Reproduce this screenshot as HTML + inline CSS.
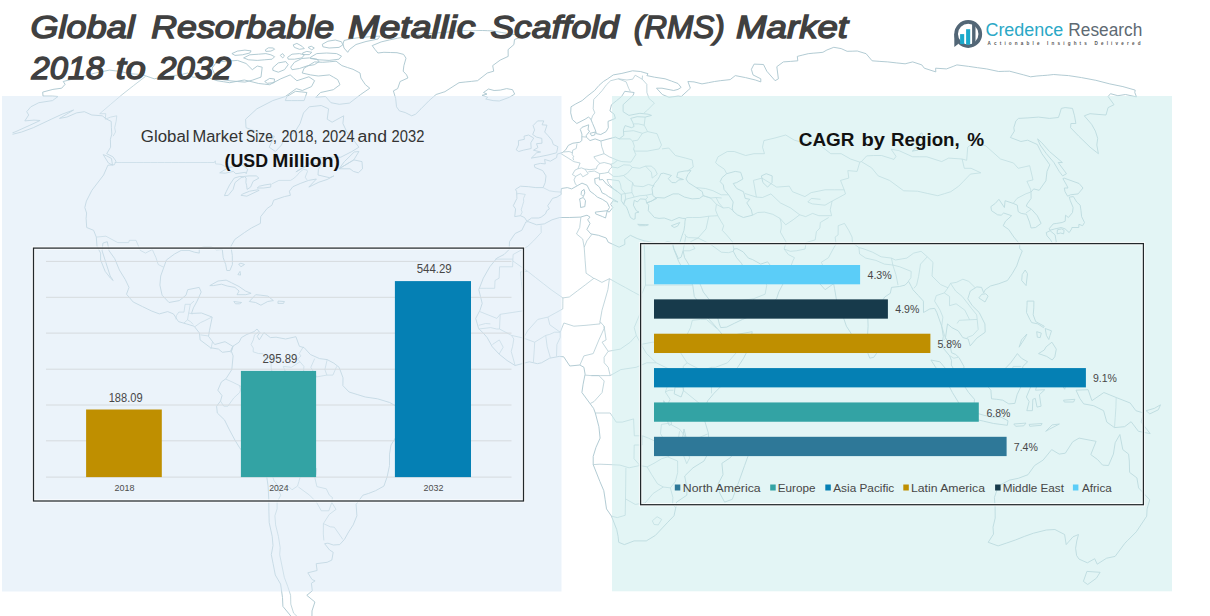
<!DOCTYPE html>
<html>
<head>
<meta charset="utf-8">
<title>Global Resorbable Metallic Scaffold (RMS) Market 2018 to 2032</title>
<style>
html,body{margin:0;padding:0;background:#fff;width:1210px;height:616px;overflow:hidden;}
svg{display:block;}
text{font-family:"Liberation Sans",Arial,sans-serif;}
</style>
</head>
<body>
<svg width="1210" height="616" viewBox="0 0 1210 616">
<defs><clipPath id="mapclip"><rect x="12.5" y="30" width="1162.5" height="586"/></clipPath></defs><g fill="none" stroke-linejoin="round" clip-path="url(#mapclip)">
<path d="M42.7 92.1L52.9 89.4L61.7 88.2L65.1 84.3L63.2 81.5L80.0 77.2L95.4 73.0L109.5 70.1L115.2 70.8L120.9 71.5L124.9 72.6L128.9 73.7L135.6 74.1L142.3 74.5L146.0 76.0L150.1 77.4L154.2 78.8L164.0 76.8L171.8 75.8L179.5 74.9L187.9 73.0L192.8 77.2L199.7 77.0L206.5 76.8L211.7 78.8L216.9 80.7L223.3 81.7L229.7 82.7L237.0 81.3L244.3 80.0L249.1 81.1L253.9 82.3L258.7 83.5L264.2 84.1L269.6 84.7L280.8 78.8L290.2 74.9L293.5 77.8L296.9 80.7L308.9 76.8L314.6 80.7L311.5 86.6L302.3 90.5L296.3 88.6L285.3 96.5L272.8 100.6L256.9 108.8L245.6 119.2L246.0 127.7L252.0 129.9L258.0 132.0L265.8 135.4L274.4 136.2L269.2 147.2L275.4 151.5L281.5 145.0L284.4 138.4L294.9 132.0L300.1 123.5L303.5 112.9L309.3 106.8L321.2 105.5L328.6 108.8L327.2 119.2L332.1 122.2L343.7 115.8L342.9 123.5L346.9 132.0L352.3 138.4L358.9 147.2L351.9 151.5L340.8 157.2L333.7 157.2L326.7 157.2L317.5 158.1L305.6 165.7L295.9 171.9L309.7 164.3L322.6 163.0L318.4 169.2L318.0 175.0L329.6 177.7L333.9 175.9L327.1 179.5L318.9 182.2L308.8 187.1L316.4 179.0L308.6 180.4L300.2 183.5L292.9 186.7L289.4 191.2L290.4 195.3L284.4 196.6L273.7 200.2L271.9 205.2L267.2 208.4L260.7 216.6L260.4 223.4L251.4 228.0L244.4 232.6L234.8 239.4L230.9 246.3L232.3 255.4L232.4 264.5L229.9 270.5L226.8 270.5L225.7 264.5L223.2 257.7L222.3 249.5L216.4 249.9L211.4 246.7L203.6 246.7L199.2 248.6L199.3 253.1L194.4 252.2L189.0 250.4L181.2 250.4L174.5 254.0L166.4 260.0L163.8 267.3L160.7 276.0L159.9 285.1L162.1 295.2L169.0 302.5L179.3 300.6L186.0 295.2L187.7 289.7L199.2 287.4L201.2 292.0L197.1 301.1L193.4 307.9L191.5 313.4L201.5 313.0L212.2 317.1L209.4 330.8L208.5 336.3L214.7 344.5L225.0 341.7L232.8 346.3L230.5 351.3L222.4 352.3L218.5 349.1L210.5 347.7L200.1 339.9L199.5 333.1L194.1 326.2L186.3 323.9L178.5 321.6L173.4 313.9L167.7 311.6L159.3 313.9L151.8 311.1L142.5 306.6L133.2 302.0L126.5 294.2L129.0 287.4L125.3 279.6L119.4 270.0L114.7 258.6L109.1 250.8L107.3 241.7L102.9 243.1L102.1 250.8L105.8 262.3L110.2 276.0L113.2 280.5L110.5 278.2L105.2 271.4L100.6 260.0L100.6 253.1L97.0 246.3L96.3 237.1L93.6 230.3L86.7 227.5L86.1 218.4L86.6 213.0L84.8 207.5L86.4 201.1L91.9 190.3L103.6 175.0L107.9 165.2L114.3 164.8L116.0 161.2L112.9 156.8L106.7 153.7L110.6 147.2L110.4 139.3L111.8 134.1L111.4 127.7L111.2 121.4L106.8 119.2L102.2 115.8L91.8 115.0L84.4 111.7L76.5 112.9L66.8 117.1L59.5 118.4L73.6 110.0L62.1 114.2L51.3 119.2L33.3 127.7L21.7 132.0L9.7 135.0L0.5 137.1L-7.5 138.9L1.4 136.2L14.9 132.0L29.1 125.6L40.1 120.5L34.0 120.1L24.8 120.9L28.7 115.0L26.7 111.7L30.8 106.8L38.8 102.7L52.5 100.6L58.0 96.5L52.3 96.1L43.0 96.1L42.7 92.1ZM232.8 346.3L239.1 342.2L241.4 337.6L246.9 334.4L254.0 331.7L257.0 329.0L259.9 332.6L257.2 336.3L259.3 339.9L263.9 332.6L270.4 337.6L276.1 337.2L285.6 339.0L295.9 336.7L299.4 346.3L304.2 347.7L310.4 354.5L319.5 358.6L327.2 359.6L333.9 363.2L339.1 367.3L343.0 377.8L342.9 385.6L349.1 392.0L357.2 394.5L365.3 397.0L377.5 398.8L389.7 402.5L399.9 408.4L404.2 417.6L405.1 422.1L402.4 429.0L396.7 435.8L391.0 445.0L389.5 454.1L389.5 465.5L387.1 477.0L383.9 486.1L375.6 490.7L368.7 493.4L362.9 495.2L356.1 504.4L356.9 515.8L353.2 524.9L348.7 531.8L344.4 539.5L339.7 544.6L333.3 545.0L327.9 543.2L324.6 543.7L329.6 550.0L333.2 552.3L331.8 560.1L327.1 562.3L316.2 563.7L317.1 570.5L307.8 572.8L312.0 579.5L315.1 580.9L311.4 583.2L312.3 590.8L306.8 595.3L314.9 602.0L312.0 610.9L311.9 619.7L315.8 624.0L312.8 628.4L308.7 630.6L295.7 621.9L282.9 606.4L282.5 597.5L280.6 584.1L275.3 575.0L273.1 563.7L271.3 554.6L273.0 545.5L272.2 536.3L269.2 522.6L268.9 511.2L268.8 499.8L268.1 486.1L265.7 469.7L260.3 464.6L245.3 455.5L239.3 447.3L235.1 440.4L229.0 429.0L224.5 419.9L217.3 413.0L216.6 406.2L220.5 401.1L222.0 395.6L217.8 390.2L221.4 381.9L226.0 378.7L231.8 369.6L233.1 355.9L231.4 351.3L232.8 346.3ZM526.9 221.2L524.5 217.5L520.4 215.7L514.7 216.6L515.6 208.9L513.3 205.7L516.9 198.4L516.7 191.7L515.5 189.4L520.5 186.2L528.5 186.7L535.8 187.6L543.1 187.6L545.2 182.6L546.0 175.9L542.7 170.6L534.8 167.4L534.3 164.8L540.4 163.4L545.3 163.9L544.6 159.4L550.4 161.2L556.6 157.6L557.2 154.1L562.8 152.4L565.7 149.8L568.3 145.4L572.9 143.2L579.7 142.3L581.8 140.6L581.9 134.1L580.3 129.4L582.0 127.3L588.7 124.8L588.0 129.9L589.7 131.1L586.3 135.4L586.3 137.1L590.0 140.6L595.1 138.9L600.9 141.0L607.0 139.3L615.4 137.1L619.2 138.9L623.8 135.4L623.4 129.9L625.1 125.6L631.5 127.7L634.1 126.5L632.7 122.2L630.7 118.4L637.1 116.7L645.2 117.1L651.5 115.4L648.1 114.2L639.9 113.3L628.9 115.4L623.1 111.7L623.1 104.7L633.2 95.3L634.1 92.5L624.8 91.3L621.6 96.5L616.6 100.6L611.5 104.7L609.9 110.9L614.2 114.2L615.4 118.4L608.0 121.4L608.3 127.7L606.1 131.6L600.8 134.5L596.4 133.7L595.3 129.9L592.6 123.5L590.7 118.8L588.4 117.1L585.1 119.2L576.8 123.5L572.4 119.6L570.7 112.9L571.0 106.8L575.8 103.9L582.2 100.6L586.9 96.5L594.6 90.5L599.0 85.4L603.4 81.5L607.7 78.8L613.3 74.9L621.9 73.4L632.5 70.8L640.4 71.5L648.0 73.7L646.9 75.6L654.5 77.2L665.1 78.8L671.5 81.1L678.0 83.5L681.1 87.4L678.0 89.4L673.7 90.5L662.0 88.2L656.5 88.2L662.3 94.5L669.0 97.3L678.1 96.1L681.3 96.5L688.7 89.7L690.4 88.2L687.9 81.5L694.0 81.9L702.0 83.9L708.4 82.7L714.6 81.5L720.3 80.7L730.2 79.6L735.3 75.6L745.5 77.6L755.4 80.0L760.8 81.9L760.8 78.8L753.0 74.9L751.4 69.3L754.1 64.1L763.5 64.5L766.8 71.2L775.1 80.7L778.4 78.8L776.8 66.7L783.4 61.9L790.6 61.4L797.8 60.8L797.3 56.4L802.8 55.0L808.2 53.7L813.1 53.2L818.0 52.8L822.9 52.3L826.9 50.0L833.8 47.3L841.2 48.6L847.1 51.3L852.2 51.2L857.3 51.0L866.1 53.7L872.1 60.8L879.9 61.4L887.7 61.9L896.4 62.9L905.1 63.8L912.7 61.9L921.8 64.9L924.3 68.2L935.8 71.9L935.6 68.2L946.5 68.9L953.2 66.4L956.9 64.9L968.7 66.4L977.6 67.7L986.5 68.9L998.7 71.5L1004.2 71.3L1009.6 71.2L1023.7 74.9L1030.6 76.8L1036.9 76.0L1042.2 75.6L1047.6 75.2L1053.7 74.5L1061.1 75.1L1068.5 75.6L1081.5 77.6L1095.8 80.3L1109.8 83.9L1122.9 86.6L1135.2 90.1L1134.8 92.5L1136.5 96.9L1125.5 94.5L1117.9 95.7L1110.5 93.7L1108.1 96.5L1114.0 104.7L1108.1 107.6L1106.0 115.0L1098.0 114.4L1090.0 113.7L1084.3 115.8L1091.6 124.3L1095.4 131.1L1097.7 138.4L1096.8 145.0L1098.4 153.7L1090.1 147.2L1078.8 136.2L1070.6 127.7L1070.9 123.5L1075.9 123.5L1074.5 115.8L1072.5 108.4L1065.2 107.6L1061.3 108.4L1060.0 112.9L1058.4 117.5L1049.5 118.4L1038.5 117.1L1027.9 117.9L1018.5 118.4L1015.9 120.9L1013.8 127.7L1014.4 131.1L1010.4 137.5L1020.9 141.5L1027.7 140.2L1037.3 144.5L1041.9 153.7L1049.8 164.8L1047.0 171.4L1045.9 180.8L1039.2 190.3L1033.7 188.9L1031.0 192.1L1031.1 198.4L1027.2 203.9L1026.3 206.1L1031.5 209.3L1037.3 215.7L1041.1 223.4L1035.6 227.5L1031.1 228.0L1029.5 222.1L1026.5 214.3L1021.2 213.4L1018.2 211.6L1017.3 205.2L1013.2 203.4L1005.1 200.7L1004.4 207.5L998.9 199.3L995.3 203.4L990.9 206.6L991.5 210.7L997.6 214.8L1001.2 215.2L1003.7 213.0L1011.6 215.7L1005.5 221.2L1003.2 225.7L1008.6 229.4L1013.9 237.1L1019.7 244.0L1019.7 248.6L1022.3 250.8L1019.4 258.1L1016.7 265.9L1012.2 273.7L1007.4 280.5L998.9 283.7L990.5 286.0L985.2 289.7L983.7 292.9L981.6 287.4L976.8 286.9L970.3 291.0L967.8 298.8L972.3 305.7L979.2 312.5L984.9 323.9L985.2 332.2L976.9 338.1L970.2 345.9L968.2 339.0L962.8 337.6L958.2 330.8L951.8 327.6L947.5 323.9L945.5 337.6L950.4 346.8L951.5 352.7L955.7 354.5L959.1 357.7L963.9 366.4L964.0 373.7L967.4 379.2L964.6 379.7L958.4 375.1L955.5 372.4L951.3 365.0L951.5 360.5L949.7 355.9L943.2 348.1L942.2 343.6L943.3 336.3L941.7 326.2L936.8 312.5L934.7 308.4L929.9 308.9L923.5 312.5L923.4 301.1L918.4 295.6L912.9 289.7L911.3 286.5L908.6 281.4L905.1 285.1L899.4 286.5L891.5 287.4L890.3 293.3L884.7 297.0L881.3 302.5L875.2 309.8L867.7 314.8L868.1 326.2L867.3 338.5L865.1 343.1L861.2 344.9L858.5 348.6L853.4 342.2L850.9 333.1L846.4 326.2L842.5 314.8L838.5 305.7L836.3 298.8L834.5 288.3L833.6 283.7L825.1 289.7L819.8 283.7L823.5 281.0L817.2 277.8L813.1 276.0L810.8 272.3L808.5 269.6L800.8 270.5L789.3 270.5L781.0 269.6L772.1 267.7L767.6 261.8L760.7 264.1L752.4 259.5L748.4 258.1L743.1 251.8L737.0 248.6L733.9 249.0L733.3 251.3L736.6 257.7L741.4 263.2L744.3 268.7L746.9 272.3L750.2 274.6L753.8 275.1L761.7 275.1L765.3 270.0L768.0 265.9L769.0 271.9L773.7 277.3L778.9 278.2L783.3 283.3L778.8 292.0L776.5 298.8L771.6 303.4L765.9 307.9L755.1 314.3L742.5 319.4L734.6 323.2L726.7 327.1L720.7 327.6L719.3 323.9L717.0 314.8L716.0 310.2L710.4 301.1L703.3 292.0L701.5 287.4L696.6 276.0L690.2 266.8L684.6 257.7L683.1 250.8L681.1 257.2L678.4 258.6L674.0 249.0L672.5 243.1L679.8 242.6L682.0 235.8L683.9 230.7L684.7 225.7L685.0 221.2L685.5 218.4L682.9 218.4L679.0 217.5L671.7 220.7L664.3 218.0L659.0 218.4L654.4 217.5L651.6 214.3L648.3 210.7L648.7 205.2L646.7 202.9L651.5 201.1L656.8 198.4L652.9 195.7L652.0 188.5L654.5 183.5L657.8 179.5L659.4 176.8L660.8 173.7L663.7 173.2L671.5 175.5L668.2 178.6L671.9 182.6L675.6 182.6L678.9 179.9L683.5 179.5L676.7 177.2L677.9 172.3L684.9 171.0L691.0 170.6L687.9 174.6L686.0 179.0L688.3 182.6L696.2 187.6L702.3 191.7L703.2 195.7L699.5 198.4L692.2 198.9L684.5 197.1L678.6 193.9L673.1 193.9L664.2 198.0L656.8 197.5L651.5 201.1L646.7 202.9L645.8 199.3L640.2 198.9L637.4 202.0L634.3 200.2L633.4 205.2L636.3 210.7L639.0 212.1L635.3 213.0L635.1 218.9L633.3 219.3L630.5 217.5L628.9 213.4L628.0 210.7L626.3 206.6L623.6 204.3L621.3 200.7L621.4 194.8L617.6 191.7L612.0 188.0L606.4 184.0L602.7 179.5L599.4 179.9L599.4 177.7L594.7 178.6L595.1 183.5L599.5 187.1L602.2 193.0L605.5 194.4L608.5 196.6L618.0 202.0L613.1 200.7L610.6 204.3L612.9 207.5L609.2 212.1L607.3 211.1L609.5 207.5L607.2 202.5L602.3 199.3L597.4 197.1L594.4 194.4L590.0 191.2L587.1 185.3L582.0 183.1L577.2 185.8L571.7 188.9L567.3 187.6L561.4 188.5L560.9 192.1L561.2 194.4L557.0 197.1L552.5 198.4L549.7 202.9L547.7 205.7L549.4 208.9L546.7 210.7L545.5 213.9L541.2 217.1L538.8 218.0L531.6 218.0L527.7 220.7L526.9 221.2ZM673.6 248.6L678.6 261.3L681.6 266.8L687.2 276.4L692.7 285.1L694.3 296.5L700.2 304.3L705.0 314.8L712.5 323.0L720.0 331.7L725.0 338.1L737.0 334.4L752.2 331.7L751.2 338.1L750.6 344.5L743.6 358.2L737.7 367.3L728.9 376.5L721.7 385.6L713.9 393.4L707.8 400.7L704.5 408.0L702.8 415.3L705.1 422.1L708.5 433.6L708.6 442.7L708.8 451.8L704.0 461.0L693.0 467.8L684.7 476.0L687.0 488.4L686.8 495.2L676.6 502.1L676.0 506.7L674.0 515.8L667.8 522.2L655.4 535.4L646.3 540.9L634.1 540.9L624.4 544.6L618.7 542.3L618.1 536.3L616.7 529.5L611.5 516.2L606.5 508.9L605.2 499.8L603.8 490.7L599.9 481.5L593.2 464.6L593.2 456.4L596.0 447.3L600.1 438.1L598.9 426.7L595.3 413.0L593.6 408.4L581.9 392.5L583.1 384.2L585.1 374.2L583.9 367.3L579.9 365.0L569.8 366.0L563.7 356.8L559.3 356.4L549.6 358.2L541.5 362.8L537.4 363.7L529.3 361.8L515.1 365.5L507.1 360.5L499.1 354.1L492.3 346.8L487.2 337.6L483.3 333.1L478.6 328.5L475.7 318.4L480.0 310.2L482.2 303.4L480.5 296.5L478.8 289.7L483.3 278.2L489.8 266.8L496.9 258.1L504.1 254.5L509.1 249.5L509.5 241.7L515.1 233.5L521.8 230.3L525.2 223.4L525.7 222.1L528.0 221.6L536.6 224.8L544.3 223.9L552.0 219.8L559.7 217.5L569.2 217.5L580.5 217.1L587.0 215.2L590.0 217.1L587.7 219.8L590.0 223.4L586.9 229.4L590.8 233.9L598.5 235.3L606.2 238.0L608.2 242.2L619.1 247.2L624.9 244.4L624.7 239.4L630.4 235.3L637.1 238.5L644.1 240.8L651.9 242.2L663.2 243.1L667.4 241.7L672.4 242.6L673.6 248.6ZM726.7 173.7L735.2 171.4L740.7 172.3L742.9 179.0L736.7 182.6L733.2 183.5L736.7 188.5L743.5 191.7L745.2 198.4L749.8 199.3L746.8 202.9L751.3 209.8L752.5 215.2L743.4 217.5L737.3 214.8L733.0 211.1L732.2 208.0L733.2 202.0L728.6 194.8L724.0 189.4L723.3 184.9L720.2 181.7L722.0 177.7L726.7 173.7ZM761.4 175.9L766.2 173.7L772.2 175.9L772.0 182.6L767.6 187.1L762.9 182.6L761.4 175.9ZM912.3 151.1L917.7 150.2L923.3 145.0L923.2 136.2L921.9 132.8L920.0 134.1L918.6 142.8L914.0 149.8L912.3 151.1ZM369.8 88.2L360.7 94.5L349.5 103.1L339.3 104.3L330.9 102.7L325.5 96.5L315.7 97.3L320.6 92.5L333.3 89.7L340.0 84.7L337.7 79.6L333.5 77.2L329.5 74.9L318.3 76.0L310.5 74.9L302.2 73.0L304.1 68.2L314.6 61.9L322.5 62.3L329.3 61.8L336.1 61.2L341.9 65.6L347.4 67.5L353.0 69.3L360.0 73.0L360.9 78.0L365.4 84.7L369.8 88.2ZM304.1 100.6L297.8 100.6L291.6 100.6L285.3 100.6L286.9 96.5L295.6 91.3L301.2 91.9L306.9 92.5L304.1 100.6ZM339.0 168.8L353.8 159.9L358.9 151.5L354.2 152.0L344.4 161.6L339.0 168.8ZM353.8 159.9L362.0 161.6L362.5 168.8L358.3 172.8L353.4 171.4L350.0 168.8L339.0 168.8ZM112.5 165.2L108.4 163.0L103.2 154.6L106.7 155.9L111.5 158.5L112.5 165.2ZM209.8 285.6L218.0 281.0L226.1 280.1L231.6 282.8L239.0 286.5L245.5 291.0L251.1 293.3L245.8 294.7L237.0 294.7L239.1 291.0L234.9 287.4L227.2 286.0L221.5 284.2L213.4 285.6L209.8 285.6ZM249.3 301.5L255.7 294.7L260.8 295.2L267.9 296.1L273.4 300.6L267.7 301.5L260.9 305.2L255.6 302.5L249.3 301.5ZM233.8 301.5L241.6 302.5L239.5 303.8L235.5 303.8L233.8 301.5ZM278.1 301.1L284.4 301.5L283.5 303.4L277.9 303.4L278.1 301.1ZM240.9 263.2L244.5 264.5L240.9 266.8L238.7 264.1L240.9 263.2ZM240.0 271.4L240.6 275.1L237.9 274.6L240.0 271.4ZM372.2 45.6L374.9 49.3L377.9 53.0L383.9 52.3L390.4 52.5L397.0 52.7L403.6 54.4L406.0 58.2L403.9 65.6L403.2 71.2L406.6 74.9L407.9 78.0L400.1 81.5L397.7 88.6L393.4 90.9L395.7 98.6L396.5 106.8L399.4 110.9L405.1 112.5L411.7 115.8L415.6 114.2L421.0 108.8L429.1 100.6L436.1 94.5L444.9 91.7L459.0 82.7L465.2 82.0L471.3 81.4L477.5 80.7L487.3 73.0L493.7 71.2L492.7 65.6L500.2 60.1L508.2 56.4L508.1 49.6L513.9 44.6L514.5 39.5L523.3 36.3L517.6 35.2L512.0 34.1L506.9 33.3L501.9 32.5L496.9 31.7L492.0 30.9L487.4 30.7L482.7 30.5L478.0 30.4L473.4 30.2L468.7 30.1L463.6 30.5L458.4 31.0L453.2 31.5L448.0 32.0L442.8 32.5L437.6 32.9L432.3 33.3L427.1 33.7L421.8 34.1L415.8 35.2L409.8 36.3L403.8 37.2L397.7 38.2L389.6 39.9L381.2 41.9L372.2 45.6ZM485.7 99.0L493.1 100.6L499.3 101.0L509.4 97.3L514.7 94.1L512.5 89.7L506.7 88.6L500.3 90.1L494.1 90.5L488.5 89.0L483.5 92.5L487.0 94.1L482.1 95.3L487.7 97.3L485.7 99.0ZM219.7 172.8L225.2 173.2L233.3 171.4L235.8 173.7L245.4 172.3L246.2 173.7L247.7 169.2L245.2 167.0L239.2 163.4L232.8 167.0L228.0 167.9L219.7 172.8ZM224.4 195.7L228.3 195.3L233.1 189.4L235.0 182.6L241.0 177.7L244.0 176.8L239.8 176.4L234.2 178.1L229.6 184.9L226.2 191.7L224.4 195.7ZM244.2 176.4L249.1 175.9L256.3 175.9L258.9 178.1L253.1 181.3L250.6 187.1L247.1 189.4L246.6 185.3L245.9 182.6L246.2 178.1L244.2 176.4ZM240.9 195.3L246.8 196.2L259.2 190.3L257.5 189.8L249.6 191.2L242.9 193.9L240.9 195.3ZM257.2 188.0L263.8 188.0L270.7 187.1L270.9 184.0L265.1 184.9L259.4 186.2L257.2 188.0ZM531.3 158.1L539.1 156.8L548.0 155.0L556.6 152.8L557.9 146.7L553.3 144.5L551.8 140.2L547.8 135.4L544.7 132.0L547.0 125.2L542.1 124.8L543.8 120.9L537.6 120.9L533.1 125.6L534.6 129.9L532.7 134.5L536.5 137.1L541.8 138.4L542.0 143.2L536.5 143.7L537.9 147.6L533.5 150.2L540.6 152.0L536.7 152.8L531.3 158.1ZM531.2 148.5L530.8 142.8L533.7 138.0L528.6 135.0L524.0 136.2L524.4 139.3L518.4 140.6L518.5 145.0L516.2 149.8L518.7 151.5L523.4 150.2L531.2 148.5ZM584.1 189.4L584.8 193.0L583.3 196.6L581.1 194.4L581.5 191.2L584.1 189.4ZM583.3 197.5L585.5 200.7L584.8 206.6L580.6 207.5L580.3 202.9L579.6 198.9L583.3 197.5ZM595.3 212.1L607.3 210.7L605.5 218.0L602.5 216.6L595.7 213.9L595.3 212.1ZM637.7 224.3L648.4 224.8L645.4 225.7L639.6 225.7L637.7 224.3ZM671.3 225.7L679.8 222.5L677.5 226.2L674.1 227.5L671.3 225.7ZM590.0 133.3L595.4 132.0L594.7 135.0L591.7 135.8L590.0 133.3ZM1062.6 175.9L1066.5 173.7L1058.2 162.5L1062.4 162.5L1049.5 151.5L1041.8 142.8L1037.6 138.9L1040.1 145.0L1046.4 153.7L1053.9 162.5L1059.2 171.4L1062.6 175.9ZM1049.3 228.5L1053.2 223.9L1056.8 223.4L1062.1 222.5L1065.2 221.2L1065.5 215.2L1068.4 217.5L1072.5 212.5L1073.1 207.5L1070.3 200.7L1069.3 197.1L1073.4 196.6L1076.7 202.0L1080.2 205.2L1081.0 210.7L1081.6 216.6L1084.5 222.5L1082.6 225.7L1078.9 224.3L1078.8 227.5L1071.9 227.5L1071.6 228.9L1069.2 232.6L1065.1 228.9L1061.2 227.5L1056.9 228.5L1054.8 228.9L1049.9 230.3L1049.3 228.5ZM1067.6 196.2L1070.5 194.8L1078.1 193.9L1083.0 188.0L1079.1 183.5L1064.1 178.1L1062.9 178.6L1066.5 184.9L1068.0 188.0L1064.3 188.0L1065.0 191.7L1067.6 196.2ZM1046.2 232.6L1050.1 230.7L1055.1 234.9L1056.3 242.2L1053.1 244.0L1050.2 239.4L1047.0 235.8L1046.2 232.6ZM1057.1 233.9L1060.6 233.0L1063.6 233.9L1064.1 230.3L1061.7 228.9L1057.4 229.8L1057.1 233.9ZM1021.7 280.5L1026.1 285.6L1027.5 273.7L1025.2 270.0L1022.2 274.6L1021.7 280.5ZM978.8 297.9L985.0 302.0L988.1 296.1L985.8 293.8L981.9 294.2L978.8 297.9ZM1027.1 301.1L1033.9 301.1L1033.8 307.9L1033.2 314.8L1035.7 321.6L1044.2 326.2L1043.5 327.6L1037.9 323.9L1031.7 322.6L1029.8 319.4L1026.5 312.5L1027.0 305.7L1027.1 301.1ZM1038.5 353.6L1044.3 350.0L1046.1 346.8L1051.9 342.2L1056.3 349.1L1054.8 356.8L1052.2 360.0L1046.7 356.4L1038.5 353.6ZM1045.2 328.5L1051.5 330.8L1050.0 335.4L1048.8 339.5L1046.4 335.4L1045.2 328.5ZM1036.7 331.7L1041.3 333.1L1040.2 337.6L1037.3 337.2L1036.7 331.7ZM1021.5 339.9L1026.9 334.0L1025.3 337.6L1019.1 347.2L1021.5 339.9ZM986.8 378.7L989.6 376.5L994.9 378.3L1002.8 371.0L1010.7 362.8L1017.4 353.6L1021.4 358.2L1027.6 361.8L1022.9 366.4L1021.9 372.8L1027.4 381.0L1021.4 385.6L1017.1 394.7L1014.9 403.4L1008.8 403.9L1002.8 400.2L996.8 399.3L991.5 398.8L990.9 390.2L987.0 385.6L986.8 378.7ZM930.9 360.0L939.9 361.8L950.3 374.2L962.6 383.3L968.6 392.5L974.5 399.3L973.3 412.1L968.0 412.6L959.4 403.9L952.4 392.5L946.4 381.0L940.2 374.2L930.9 360.0ZM970.6 416.7L976.1 413.0L984.0 415.3L992.0 417.1L1000.9 417.1L1008.0 420.8L1007.3 425.3L993.7 423.5L983.7 421.2L975.7 419.4L970.6 416.7ZM1026.8 410.7L1029.1 401.6L1026.4 397.0L1031.2 385.6L1033.5 381.9L1043.6 381.5L1052.4 378.7L1049.7 383.8L1037.6 383.3L1035.5 390.2L1044.8 389.7L1039.4 394.7L1041.1 406.2L1037.0 407.1L1035.3 398.4L1032.8 399.3L1032.4 410.7L1026.8 410.7ZM1061.7 377.4L1063.9 383.3L1067.0 380.1L1064.7 389.3L1062.3 385.6L1061.7 377.4ZM1063.5 400.2L1074.9 399.3L1073.6 402.0L1064.3 402.0L1063.5 400.2ZM1076.0 390.2L1088.1 389.7L1091.9 400.7L1103.9 392.5L1116.2 397.5L1130.2 403.0L1135.9 410.7L1143.5 413.0L1141.1 422.1L1150.2 433.6L1138.4 431.3L1131.1 421.7L1124.6 426.7L1114.5 427.6L1106.8 422.1L1103.6 410.7L1093.7 405.7L1083.7 403.9L1079.8 398.4L1076.0 390.2ZM1146.1 410.7L1154.3 408.4L1160.5 404.8L1158.3 409.8L1149.8 413.9L1146.1 410.7ZM1045.7 431.3L1052.1 424.9L1059.4 424.0L1049.8 429.0L1045.7 431.3ZM1029.1 424.4L1042.1 423.5L1041.2 425.3L1029.8 426.3L1029.1 424.4ZM1013.8 424.0L1026.0 423.1L1023.8 425.8L1015.7 426.3L1013.8 424.0ZM868.0 353.6L869.1 340.8L873.7 346.8L876.4 353.6L873.8 357.3L869.8 358.2L868.0 353.6ZM744.1 440.4L747.9 456.4L744.6 465.5L738.9 481.5L732.3 499.3L724.6 502.1L719.7 493.0L718.2 483.8L723.0 474.7L721.9 463.3L730.2 457.8L738.6 447.3L744.1 440.4ZM998.3 486.1L994.4 497.5L995.1 506.7L995.2 518.1L993.0 527.2L993.5 534.1L988.2 542.3L998.1 545.9L1006.7 543.0L1015.4 540.0L1024.7 536.3L1033.5 533.2L1046.3 530.0L1054.9 529.5L1064.6 534.5L1066.2 544.6L1073.0 536.8L1078.5 534.5L1076.8 540.9L1075.6 548.2L1076.6 555.5L1079.0 559.1L1087.4 562.8L1094.7 558.7L1097.2 564.2L1106.6 558.2L1115.1 556.4L1124.9 543.2L1127.6 540.5L1136.3 531.8L1146.7 516.2L1147.1 508.9L1149.7 499.8L1143.4 493.0L1138.6 487.9L1136.9 477.9L1129.6 472.4L1129.3 461.0L1128.6 454.1L1122.8 449.6L1119.9 434.5L1115.2 442.7L1113.4 454.1L1108.5 465.5L1102.6 465.1L1097.6 459.6L1090.8 454.6L1096.1 441.3L1090.9 440.4L1079.1 438.1L1072.7 441.8L1065.3 453.2L1059.2 454.1L1051.7 449.6L1043.1 460.1L1034.6 465.5L1028.0 474.7L1018.3 478.3L1009.2 480.2L998.3 486.1ZM1086.9 571.4L1100.1 572.3L1096.4 578.2L1087.7 584.5L1083.4 581.4L1086.9 571.4ZM338.3 618.8L344.6 618.8L351.0 620.1L349.7 622.7L342.6 622.3L338.3 618.8ZM675.1 387.0L682.8 387.0L683.6 390.2L681.1 397.0L674.2 393.8L675.1 387.0ZM663.7 400.7L666.9 406.2L670.0 415.3L671.5 424.4L669.1 425.3L665.2 415.3L663.7 400.7ZM684.0 429.0L686.2 438.1L687.5 450.9L684.7 450.5L682.6 438.1L684.0 429.0ZM231.9 53.6L237.4 51.1L244.9 50.1L251.1 50.9L249.8 53.0L242.4 54.8L235.0 55.4L231.9 53.6ZM243.6 57.9L249.8 54.8L258.5 54.2L265.9 53.6L270.9 54.8L274.6 56.7L272.1 59.2L264.7 59.8L257.3 60.4L248.6 59.8L243.6 57.9ZM265.3 49.9L268.4 47.8L273.4 48.0L274.6 49.3L270.9 51.1L265.9 51.4L265.3 49.9ZM222.0 61.5L230.0 61.0L237.4 60.4L246.1 63.5L252.3 69.7L257.3 66.0L262.2 67.2L261.0 77.1L252.3 80.2L244.9 82.1L237.4 81.5L230.0 80.8L222.0 79.5L215.0 75.0L212.0 68.0L216.0 63.0L222.0 61.5ZM264.7 81.5L269.7 78.4L274.6 79.0L274.0 82.7L267.2 83.3L264.7 81.5ZM272.8 67.8L278.3 62.9L285.8 61.6L288.2 64.7L284.5 69.7L278.3 72.2L272.8 70.3L272.8 67.8ZM280.2 55.4L282.7 53.6L284.5 56.1L282.7 57.9L280.2 55.4ZM287.6 57.3L292.0 54.2L299.4 53.6L304.3 54.8L301.9 57.9L294.4 59.2L288.2 59.2L287.6 57.3ZM293.2 44.9L296.9 43.4L301.9 46.2L304.3 48.6L299.4 49.3L294.4 47.4L293.2 44.9ZM308.1 47.4L311.2 46.2L314.3 48.0L311.8 49.9L308.1 47.4ZM302.5 53.0L306.8 51.4L311.8 52.3L309.3 54.6L303.1 54.6L302.5 53.0ZM290.7 67.2L294.4 62.3L301.9 58.5L309.3 57.9L316.7 59.2L319.2 61.6L314.3 64.7L306.8 66.0L299.4 68.5L292.0 69.7L290.7 67.2ZM310.5 57.3L316.7 53.6L326.7 53.0L336.6 53.6L341.5 56.1L339.0 59.2L329.1 60.4L319.2 59.8L310.5 58.5L310.5 57.3ZM322.3 44.3L327.9 41.2L335.3 40.0L341.5 41.8L342.8 44.9L339.0 47.4L329.1 48.0L322.9 46.8L322.3 44.3ZM344.0 40.5L351.4 38.7L360.1 37.5L372.0 36.5L380.0 36.2L378.0 39.0L366.0 41.5L356.0 44.5L349.5 49.5L347.7 52.3L344.0 48.0L343.0 44.0L344.0 40.5Z" stroke="#A9C5CE" stroke-width="0.9"/>
<path d="M114.7 162.5L121.9 162.5L129.0 162.5L136.1 162.5L143.2 162.5L150.3 162.5L157.4 162.5L164.5 162.5L171.7 162.5L178.8 162.5L185.9 162.5L193.0 162.5L200.1 162.5L207.2 162.5L214.4 162.5L215.3 160.8L215.6 163.9L221.0 164.3L225.2 166.5L231.7 167.0M271.6 184.0L278.9 180.4L290.5 180.4L292.9 179.0L296.7 175.9L299.1 172.8L303.3 169.4L306.7 169.9L307.5 171.4L305.2 177.2L307.0 179.9M145.5 76.4L133.7 85.5L122.0 94.7L110.8 104.2L99.7 113.7L105.8 113.7L105.2 119.2L110.6 117.1L116.8 115.8L116.1 121.4L114.7 127.7L115.5 132.0L113.1 136.2M96.3 237.1L105.9 236.2L117.8 242.6L128.6 242.6L129.4 240.3L136.0 240.3L140.3 250.4L145.5 253.1L152.3 249.5L156.0 257.7L158.2 264.5L163.8 267.3M175.9 319.4L176.3 315.7L178.8 312.1L184.0 312.1L185.1 304.3L190.3 304.3L194.0 301.1M190.3 304.3L188.7 313.0L192.6 313.9M184.0 323.0L187.5 319.8L190.5 321.6L193.1 324.4M188.7 313.0L187.5 319.8M194.9 326.7L200.5 322.6L204.7 320.7L211.8 317.1M200.5 334.9L207.3 335.8L208.5 335.8M210.9 349.1L212.5 341.7M233.2 345.9L230.9 352.7M258.8 331.7L254.5 334.9L253.3 339.9L251.1 344.5L253.3 348.1L253.1 351.8L258.7 353.6L262.7 353.6L265.0 357.7L272.7 357.3L271.2 362.8L271.1 367.3L273.0 376.5L274.5 380.1M303.4 346.8L299.1 353.6L301.0 355.9L297.7 359.1L300.0 361.8M314.7 358.6L310.8 367.3L316.7 376.9M327.2 359.6L324.9 369.6L326.9 375.1M336.7 366.4L332.9 375.1L326.9 375.1L316.7 376.9L307.3 380.1L303.4 375.1L303.9 366.4L300.0 361.8L291.4 367.3L283.3 366.4L286.4 374.2L280.2 381.9L274.5 380.1L264.0 381.0L264.4 391.1L262.7 404.8L258.2 406.2L250.7 409.8L247.1 419.9L250.3 428.5L255.3 431.3L261.3 429.0L261.3 435.8L267.8 435.8L271.7 434.5L279.5 430.4L282.6 435.4L288.4 442.7L297.6 447.3L302.9 448.6L305.4 460.1L313.0 460.1L312.7 464.6L316.7 468.7L316.0 474.7L314.7 477.0L316.9 486.6L326.3 488.8L329.4 495.2L332.4 497.5L331.8 502.5L336.0 509.4L329.3 514.4L323.4 523.6L330.3 526.8L334.3 527.2L342.9 539.5M226.0 379.2L232.0 381.9L239.6 385.6L247.8 391.1L254.0 396.6L262.1 397.9L262.7 404.8M220.5 401.1L223.8 406.2L227.9 406.2L233.8 397.9L239.7 392.5L240.5 389.7L239.6 385.6M267.8 435.8L269.2 443.6L268.0 454.1L269.7 458.7L268.4 465.5L265.7 469.7M268.4 465.5L271.2 472.4L274.2 481.1L276.6 483.8L278.1 489.8M278.1 489.8L282.8 486.1L288.8 486.6L292.0 489.8L297.5 486.1L298.9 481.5L300.6 475.1L311.2 473.8L314.7 477.0M298.4 487.0L309.6 495.2L316.4 502.1L321.3 510.8L328.8 510.8L331.8 502.5M278.1 489.8L280.8 495.2L277.1 502.1L277.1 508.9L274.9 515.8L275.6 524.9L278.4 536.3L280.2 547.8L279.7 554.6L282.0 566.0L284.3 577.3L287.7 586.3L290.6 595.3L290.8 604.2L293.6 613.1L300.5 619.7L309.5 621.9M323.9 540.5L323.3 534.1L323.4 523.6M543.1 187.6L549.5 190.8L555.0 191.7L561.3 192.1M516.5 193.9L519.1 193.5L525.3 194.4L523.5 198.4L523.7 201.6L522.6 205.2L521.2 209.8L522.2 212.1L520.4 215.7M560.4 153.3L566.1 156.8L568.2 158.1L571.7 160.3L573.7 161.6L580.1 163.0L577.9 168.8L575.0 170.1L572.4 174.6L575.6 176.4L574.0 179.9L575.4 184.0L577.2 185.8M563.6 152.0L569.1 151.5L572.6 152.8M577.0 143.7L576.2 148.5L572.7 150.2L572.2 154.6L573.9 156.8L572.8 157.6L573.8 160.3M575.6 176.4L580.7 173.7L582.8 176.8L588.2 173.7L585.0 169.2L581.4 167.9L577.9 168.8M581.9 136.7L586.3 137.1M600.9 141.0L601.7 146.7L602.8 149.8L604.0 153.7M593.9 156.8L599.8 155.0L604.0 153.7M593.9 156.8L595.3 159.0L599.9 163.4M599.9 163.4L597.1 166.1L596.4 168.8L590.0 169.7L586.4 169.2L585.0 169.2M588.2 171.9L594.3 171.0L599.7 173.7L599.4 177.7M599.9 163.4L604.2 162.5L610.9 164.3L612.1 167.0L609.7 169.2L608.3 172.3L604.4 173.2L599.7 173.7M604.0 153.7L609.3 156.8L617.5 160.3L621.8 161.6L631.0 162.1M610.9 164.3L614.1 163.0L617.5 160.3M612.1 167.0L617.8 167.9L623.7 164.8L629.8 165.2M619.2 138.9L630.1 138.9L632.6 141.0L634.4 146.3L633.6 149.3L635.8 154.6L631.0 162.1M623.5 131.6L633.5 130.7L642.4 133.3M633.9 123.9L638.5 123.9L644.2 125.2M632.6 141.0L637.7 140.2L642.4 133.3L647.6 131.6L657.0 133.7L661.5 145.0L659.2 148.9L647.3 151.1L635.5 151.1L633.6 149.3M645.2 117.1L644.2 125.2L647.6 131.6M644.1 112.9L647.6 110.0L654.4 103.1L649.1 98.6L646.9 92.5L646.8 84.3L642.2 79.2L642.5 75.6M618.3 78.8L626.9 80.0L632.7 79.2L635.2 75.2L642.2 79.2M618.3 78.8L626.2 81.9L628.8 88.6L630.3 91.3M618.3 78.8L610.7 80.7L606.5 84.7L602.2 90.5L598.6 94.5L593.7 99.4L593.2 108.8L594.8 112.9L592.6 115.8L591.3 119.6M662.0 148.9L668.8 148.0L675.4 155.5L685.6 158.1L692.2 159.9L693.3 167.0L687.4 171.0M629.8 165.2L632.4 167.4L639.6 168.3L645.5 166.1L651.2 166.1L655.0 169.2L657.3 174.1L652.2 178.1M645.5 166.1L651.4 172.3L652.2 178.1M632.4 167.4L627.4 173.2L623.5 175.5M623.5 175.5L628.1 179.5L632.6 182.6L633.9 185.8L643.1 186.7L648.4 184.4L654.4 186.2M608.3 172.3L610.1 173.7L613.5 176.4L618.5 176.4L623.5 175.5M607.0 179.5L609.9 179.5L619.1 180.8L620.7 184.9L621.2 188.9M607.0 179.5L608.6 183.5L614.2 189.4L617.6 191.7M632.6 182.6L631.8 188.5L632.0 192.6L634.1 197.1M621.0 194.4L625.1 193.5L625.6 198.0L623.6 204.3M623.6 204.3L625.7 199.3L627.1 198.9L634.1 197.1L640.0 195.7L645.8 195.3L647.8 197.1L645.8 199.3M645.8 195.3L652.8 193.9M621.2 188.9L625.1 193.5L632.0 192.6M703.2 195.7L710.6 198.0L716.4 204.3L715.6 210.2L717.8 215.7L708.8 216.2L699.9 217.5L692.3 217.5L687.0 217.5L685.5 218.4M708.8 216.2L706.0 228.9L698.0 238.0L690.6 241.7L695.0 248.6L689.3 250.8L683.1 250.8M685.9 236.2L688.3 237.6L698.0 238.0M684.6 233.9L685.9 236.2L684.8 241.7L683.1 250.8M717.8 215.7L721.2 221.6L723.7 225.7L722.2 230.3L726.6 234.9L732.3 241.7L733.9 249.0M698.0 238.0L710.1 244.0L721.3 252.2L728.4 252.7L733.3 251.3M718.8 309.3L723.8 306.1L731.9 306.6L741.5 300.6L753.4 298.8L758.4 309.8M753.4 298.8L765.1 294.2L766.8 285.1L765.0 281.9L754.6 281.0L750.2 274.6M765.0 281.9L767.7 275.5L768.0 265.9M789.3 270.5L792.9 260.9L794.5 257.7L788.3 254.5L784.1 249.0L786.2 242.2L780.4 232.1L781.3 228.0L781.2 223.0L780.0 218.4M780.0 218.4L772.8 214.3L764.4 212.1L757.7 212.5L752.5 215.2M732.5 210.2L728.8 207.5L723.2 208.0L716.4 204.3M784.1 249.0L790.2 251.3L796.4 250.8L805.1 249.0L806.0 242.6L815.2 239.9L816.4 231.7L819.9 228.0L820.3 222.5L828.7 217.5M780.0 218.4L785.7 224.8L793.1 219.8L799.7 214.8L805.7 216.6L812.6 213.4L818.8 215.7L831.6 215.7M816.0 277.3L820.9 274.6L826.8 274.1L824.1 268.2L821.3 262.3L828.5 257.7L833.1 249.0L836.1 244.0L835.1 237.1L838.1 234.9L838.2 225.7L844.5 223.4M844.5 223.4L848.7 230.3L852.1 237.1L852.4 242.6L858.9 247.6L863.0 248.6L872.6 252.2L881.1 256.8L891.5 258.1M858.9 247.6L859.6 254.0L865.7 258.1L875.9 260.4L884.4 264.1L892.8 265.0L891.5 258.1M891.5 258.1L895.4 260.0L906.8 258.1L913.7 253.1L921.1 251.3L927.3 256.8M892.8 265.0L899.8 266.8L911.2 271.4L910.9 277.8L908.2 281.4M892.8 265.0L895.9 274.6L898.0 285.1M927.3 256.8L920.5 264.1L918.6 276.4L916.6 285.1L913.9 288.3M927.3 256.8L933.0 262.3L932.0 276.0L940.7 284.6L948.0 287.8L950.5 283.3L956.3 282.4L962.9 279.2L968.8 281.4L974.9 287.4M861.4 161.6L871.7 167.9L878.2 175.9L889.5 180.4L903.7 190.8L917.5 191.2L927.7 193.5L937.8 195.7L944.4 193.7L950.8 191.7L958.7 186.2L963.1 181.7L970.4 174.1L980.8 172.8L971.1 168.3L964.3 168.3L962.1 159.0L966.7 160.3M966.7 160.3L967.7 147.2L973.3 142.8L985.7 145.8L1000.5 159.0L1013.5 163.0L1018.2 168.3L1029.7 165.7L1033.0 179.9L1026.9 181.3L1030.8 189.8L1030.6 192.1M1030.6 192.1L1025.7 193.9L1017.0 198.4L1013.2 203.4M861.4 161.6L866.7 155.9L873.5 155.5L881.5 155.5L894.0 159.4L896.0 156.3L891.2 149.3L898.9 150.6L912.7 156.8L919.7 156.8L926.8 156.8L941.7 161.6L948.6 158.1L962.1 159.0M726.7 173.7L724.4 169.2L717.8 164.8L715.6 162.5L718.0 156.8L727.3 151.5L734.2 151.5L745.7 155.5L754.0 153.7L764.5 153.7L762.5 147.2L763.9 140.6L774.9 138.0L785.7 135.0L794.4 140.2L803.9 142.8L813.3 140.6L820.6 145.8L830.8 153.7L841.2 153.7L850.5 159.0L859.8 162.1L861.4 161.6M859.8 162.1L857.1 171.4L847.8 170.6L848.8 178.1L840.5 180.4L844.2 189.8L845.5 193.9L838.9 197.5L832.1 201.1L830.2 209.8L831.6 215.7M844.2 189.8L834.7 189.8L825.1 189.8L818.2 191.2L811.2 192.6L804.9 196.6L792.5 191.7L789.3 186.2L776.7 187.1L761.9 178.1L753.4 180.4L756.4 197.1L745.0 193.5M756.4 197.1L762.5 197.5L770.9 193.9L780.4 202.9L790.7 208.0L799.7 214.8M832.1 201.1L825.0 205.2L812.3 203.9L807.8 202.0L811.3 198.4L820.5 199.3M696.2 187.6L705.5 188.5L713.2 190.8L721.2 194.8L728.6 194.8M703.2 195.7L710.6 198.0L716.1 197.5L721.7 198.0M716.1 197.5L718.8 202.9L723.2 208.0M948.0 287.8L944.3 292.9L936.3 295.6L934.6 301.1L940.1 310.2L942.9 317.1L941.7 326.2L945.5 338.5L943.6 339.9M944.3 292.9L949.6 296.5L949.5 305.7L956.1 303.8L964.9 310.2L969.6 319.8M950.5 283.3L955.6 291.0L962.3 296.5L971.9 308.9L976.7 314.8L977.2 319.4M957.1 323.5L959.2 320.3L969.6 319.8L977.2 319.4L978.2 329.4L972.7 335.4L966.8 337.6M950.1 355.9L953.8 358.2L958.2 357.3M1025.9 213.0L1031.1 209.3M989.6 376.9L997.0 381.0L1009.1 379.2L1013.2 366.4L1021.3 366.4M1116.2 397.5L1115.9 407.5L1115.2 417.6L1114.5 427.6M541.1 225.3L541.2 232.6L533.6 240.8L527.9 246.3L513.1 254.5L512.9 259.1M495.3 259.1L504.1 259.1L512.9 259.1L512.6 266.8L499.6 266.8L499.1 278.2L495.0 280.5L494.7 288.3L486.8 288.3L478.9 288.3M512.8 260.9L527.7 271.4L520.6 271.9L521.4 281.6L522.2 291.3L523.1 301.0L524.0 310.7L512.1 312.5L500.2 314.3L496.9 318.4L488.4 315.0L479.9 311.6M580.9 217.1L579.7 227.5L576.5 233.9L582.7 239.0L584.2 247.2L585.1 260.2L586.1 273.2L593.6 278.2M591.9 234.4L586.9 240.8L584.2 247.2M527.7 271.4L535.5 277.5L543.3 283.6L551.1 289.7L562.9 297.9L569.3 297.0L577.6 290.7L585.8 284.5L594.0 278.2M644.1 241.2L644.6 252.2L644.9 263.2L645.2 274.1L645.5 285.1L641.7 294.2L641.8 296.5L633.6 292.1L625.5 287.6L617.4 283.2L609.4 278.7L601.9 282.4L594.0 278.2M645.5 285.1L654.9 285.1L664.4 285.1L673.8 285.1L683.2 285.1L692.7 285.1M609.4 278.7L607.9 289.7L605.0 299.9L602.0 310.2L600.0 321.6L604.1 326.2L606.1 339.9L602.1 342.2L608.2 351.3L620.3 349.1L630.3 342.2L636.3 335.4L634.2 327.6L640.1 313.4L641.8 296.5M562.9 297.9L562.8 308.9L547.9 317.1L549.8 324.8L560.2 332.2L563.9 323.0L573.9 326.2L586.0 325.3L600.0 323.9L600.0 321.6M500.2 314.3L499.5 329.0L511.5 335.4L523.5 338.1L527.6 330.8L537.8 319.4L547.9 317.1M523.5 338.1L534.7 342.2L545.7 335.4L549.7 334.4L554.6 332.2L560.2 332.2M478.7 325.3L485.6 323.5L490.4 323.9M478.6 329.0L490.7 327.6L496.7 329.0L499.5 329.0M492.4 344.5L499.3 339.9L503.2 347.2L499.1 354.1M515.1 365.5L511.2 351.3L512.5 346.8L513.8 339.0L511.5 335.4M533.4 362.3L534.3 349.1L534.7 342.2M550.4 357.7L547.2 346.8L545.7 335.4M556.5 356.4L556.9 344.5L560.2 337.6L560.2 332.2M579.9 365.0L583.9 355.9L593.2 353.6L598.9 339.9L604.1 328.5L604.1 326.2M585.1 375.1L591.2 375.6L600.7 375.6L610.2 375.6L608.2 367.3L604.2 362.8L604.1 357.3L608.2 351.3M591.2 375.6L598.9 375.6L604.2 381.0L602.1 392.5L594.0 401.6L590.4 403.4M610.2 375.6L620.8 369.6L636.1 367.3L646.6 362.8L656.3 362.8L670.1 369.6M636.3 335.4L642.5 346.8L646.6 353.6L656.3 362.8M640.4 344.5L652.5 342.2L658.6 342.2L666.6 338.5L678.7 337.6L683.6 339.9M692.3 320.3L690.5 327.6L686.7 335.4L683.6 339.9L684.0 346.8L678.8 349.1L678.8 350.0L687.1 362.8M692.3 320.3L700.3 319.4L706.4 319.4L716.7 328.5M718.1 335.4L723.2 344.5L731.3 346.8L739.4 349.1L727.5 362.8L715.4 367.3L711.4 367.3L705.3 369.6L699.3 369.2L691.1 365.0L687.1 362.8M711.4 367.3L711.5 380.3L711.5 393.4M687.1 362.8L683.1 366.4L685.2 381.0L683.1 390.2L697.2 401.6L704.1 407.1M670.1 369.6L671.0 376.5L665.3 392.0L669.0 390.2L673.4 390.2M665.3 392.0L670.1 399.3L666.9 406.2M670.7 424.4L678.3 428.5L679.5 429.0M686.2 438.1L696.7 438.6L708.5 433.6M595.3 413.0L610.2 413.0L616.2 422.1L622.3 422.1L633.6 418.9L634.3 435.8L642.4 435.8L642.3 445.0L634.2 445.0L634.0 458.7L639.9 465.5L629.1 467.8L620.0 465.1L610.0 464.6L600.0 464.2L593.2 464.6M642.4 435.8L648.4 438.1L658.4 442.7L664.3 446.4L664.4 440.4L660.5 433.6L661.4 424.4L669.9 423.1M639.9 465.5L647.1 466.9L654.0 463.3L661.7 458.7L667.7 456.9L678.3 449.6L677.2 447.3L679.5 431.3M647.1 466.9L651.7 474.7L657.5 483.8L663.3 487.0L670.4 487.9L675.4 481.5L677.7 472.4L677.6 461.0L667.7 456.9M625.9 467.8L625.8 477.0L625.7 486.1L625.5 498.9L625.2 515.3L617.3 517.6L611.5 516.2M625.5 498.9L635.2 504.4L645.1 503.0L653.2 493.4L663.3 487.0M670.4 487.9L672.9 497.5L672.6 504.4L675.9 508.0M652.3 520.8L657.1 516.7L661.7 519.4L658.3 524.9L654.1 524.5L652.3 520.8M679.5 429.0L684.7 435.8L687.5 451.8L689.7 457.8L686.7 463.7L683.0 454.1L678.3 449.6" stroke="#AFCAD2" stroke-width="0.75"/>
</g>
<rect x="2" y="96" width="559.5" height="495.5" fill="rgb(218.6,233.2,245.9)" fill-opacity="0.55"/>
<rect x="612" y="96" width="560" height="495.3" fill="rgb(204.1,236.8,236.8)" fill-opacity="0.55"/>
<!-- title -->
<text x="30.60" y="37.5" font-size="31.5" font-style="italic" stroke="#404040" stroke-width="1.4" fill="#404040" textLength="104.15" lengthAdjust="spacingAndGlyphs">Global</text><text x="151.20" y="37.5" font-size="31.5" font-style="italic" stroke="#404040" stroke-width="1.4" fill="#404040" textLength="182.95" lengthAdjust="spacingAndGlyphs">Resorbable</text><text x="348.10" y="37.5" font-size="31.5" font-style="italic" stroke="#404040" stroke-width="1.4" fill="#404040" textLength="127.35" lengthAdjust="spacingAndGlyphs">Metallic</text><text x="490.40" y="37.5" font-size="31.5" font-style="italic" stroke="#404040" stroke-width="1.4" fill="#404040" textLength="128.45" lengthAdjust="spacingAndGlyphs">Scaffold</text><text x="633.70" y="37.5" font-size="31.5" font-style="italic" stroke="#404040" stroke-width="1.4" fill="#404040" textLength="91.10" lengthAdjust="spacingAndGlyphs">(RMS)</text><text x="736.00" y="37.5" font-size="31.5" font-style="italic" stroke="#404040" stroke-width="1.4" fill="#404040" textLength="112.05" lengthAdjust="spacingAndGlyphs">Market</text>
<text x="31.45" y="78.8" font-size="31.5" font-style="italic" stroke="#404040" stroke-width="1.4" fill="#404040" textLength="72.80" lengthAdjust="spacingAndGlyphs">2018</text><text x="115.70" y="78.8" font-size="31.5" font-style="italic" stroke="#404040" stroke-width="1.4" fill="#404040" textLength="30.05" lengthAdjust="spacingAndGlyphs">to</text><text x="158.15" y="78.8" font-size="31.5" font-style="italic" stroke="#404040" stroke-width="1.4" fill="#404040" textLength="73.25" lengthAdjust="spacingAndGlyphs">2032</text>
<!-- logo -->
<g>
<circle cx="968.2" cy="34.0" r="12.1" fill="none" stroke="#526676" stroke-width="3.7"/>
<path d="M954.3 33.8 L954.3 47.0 L958.2 44.0 L958.0 33.8 Z" fill="#526676"/>
<rect x="972.1" y="23" width="3.4" height="21" fill="#526676"/>
<rect x="960.1" y="34.1" width="4.1" height="10" fill="#1BA9CB"/>
<rect x="966.1" y="29.2" width="4.1" height="15.5" fill="#1BA9CB"/>
<text x="985.45" y="35.5" font-size="18.7" fill="#2BA8C6" textLength="77.75" lengthAdjust="spacingAndGlyphs">Credence</text><text x="1068.35" y="35.7" font-size="18.7" fill="#5E6A73" textLength="73.90" lengthAdjust="spacingAndGlyphs">Research</text>
<text x="987.5" y="44.7" font-size="4.6" font-weight="bold" fill="#555" textLength="153" lengthAdjust="spacing">Actionable Insights Delivered</text>
</g>
<!-- left panel -->
<text x="140.85" y="142.4" font-size="15.6" fill="#333333" textLength="48.75" lengthAdjust="spacingAndGlyphs">Global</text><text x="192.40" y="142.4" font-size="15.6" fill="#333333" textLength="50.45" lengthAdjust="spacingAndGlyphs">Market</text><text x="246.00" y="142.4" font-size="15.6" fill="#333333" textLength="30.75" lengthAdjust="spacingAndGlyphs">Size,</text><text x="281.45" y="142.4" font-size="15.6" fill="#333333" textLength="36.00" lengthAdjust="spacingAndGlyphs">2018,</text><text x="321.90" y="142.4" font-size="15.6" fill="#333333" textLength="32.75" lengthAdjust="spacingAndGlyphs">2024</text><text x="357.55" y="142.4" font-size="15.6" fill="#333333" textLength="29.45" lengthAdjust="spacingAndGlyphs">and</text><text x="391.55" y="142.4" font-size="15.6" fill="#333333" textLength="32.80" lengthAdjust="spacingAndGlyphs">2032</text>
<text x="224.60" y="167.1" font-size="18.4" font-weight="bold" fill="#111111" textLength="43.40" lengthAdjust="spacingAndGlyphs">(USD</text><text x="272.35" y="167.1" font-size="18.4" font-weight="bold" fill="#111111" textLength="67.55" lengthAdjust="spacingAndGlyphs">Million)</text>
<rect x="33.5" y="248.1" width="490" height="252.9" fill="none" stroke="#ffffff" stroke-opacity="0.75" stroke-width="3.4"/>
<rect x="33.5" y="248.1" width="490" height="252.9" fill="none" stroke="#22282B" stroke-width="1.25"/>
<g stroke="#D6DBDE" stroke-width="1">
<line x1="46" y1="261.4" x2="511.5" y2="261.4"/>
<line x1="46" y1="297.3" x2="511.5" y2="297.3"/>
<line x1="46" y1="333.1" x2="511.5" y2="333.1"/>
<line x1="46" y1="369.2" x2="511.5" y2="369.2"/>
<line x1="46" y1="405.0" x2="511.5" y2="405.0"/>
<line x1="46" y1="440.8" x2="511.5" y2="440.8"/>
<line x1="46" y1="477.1" x2="511.5" y2="477.1"/>
</g>
<rect x="86.1" y="409.5" width="75.7" height="67.6" fill="#BF8F00"/>
<rect x="240.9" y="370.9" width="75.2" height="106.2" fill="#33A3A4"/>
<rect x="394.9" y="281.1" width="76.1" height="196" fill="#0580B4"/>
<text x="108.70" y="402.0" font-size="12.0" fill="#474747" textLength="33.85" lengthAdjust="spacingAndGlyphs">188.09</text><text x="262.45" y="363.0" font-size="12.0" fill="#474747" textLength="34.90" lengthAdjust="spacingAndGlyphs">295.89</text><text x="416.70" y="273.0" font-size="12.0" fill="#474747" textLength="34.95" lengthAdjust="spacingAndGlyphs">544.29</text>
<text x="114.40" y="490.7" font-size="8.6" fill="#4D4D4D" textLength="20.00" lengthAdjust="spacingAndGlyphs">2018</text><text x="269.15" y="490.7" font-size="8.6" fill="#4D4D4D" textLength="19.40" lengthAdjust="spacingAndGlyphs">2024</text><text x="423.45" y="490.7" font-size="8.6" fill="#4D4D4D" textLength="19.95" lengthAdjust="spacingAndGlyphs">2032</text>
<!-- right panel -->
<text x="798.75" y="146.3" font-size="18.7" font-weight="bold" fill="#111111" textLength="55.65" lengthAdjust="spacingAndGlyphs">CAGR</text><text x="861.45" y="146.3" font-size="18.7" font-weight="bold" fill="#111111" textLength="23.40" lengthAdjust="spacingAndGlyphs">by</text><text x="891.05" y="146.3" font-size="18.7" font-weight="bold" fill="#111111" textLength="68.75" lengthAdjust="spacingAndGlyphs">Region,</text><text x="967.35" y="146.3" font-size="18.7" font-weight="bold" fill="#111111" textLength="16.85" lengthAdjust="spacingAndGlyphs">%</text>
<rect x="640.6" y="243.6" width="502.8" height="261.1" fill="none" stroke="#ffffff" stroke-opacity="0.75" stroke-width="3.4"/>
<rect x="640.6" y="243.6" width="502.8" height="261.1" fill="none" stroke="#22282B" stroke-width="1.25"/>
<rect x="654" y="265.00" width="206.1" height="19.3" fill="#5BCDF8"/>
<rect x="654" y="299.36" width="233.9" height="19.3" fill="#173A4B"/>
<rect x="654" y="333.72" width="276.4" height="19.3" fill="#BF8F00"/>
<rect x="654" y="368.08" width="431.9" height="19.3" fill="#0580B4"/>
<rect x="654" y="402.44" width="324.8" height="19.3" fill="#33A3A4"/>
<rect x="654" y="436.80" width="352.6" height="19.3" fill="#2E7898"/>
<text x="867.45" y="278.7" font-size="11.0" fill="#474747" textLength="24.35" lengthAdjust="spacingAndGlyphs">4.3%</text><text x="895.25" y="313.2" font-size="11.0" fill="#474747" textLength="24.10" lengthAdjust="spacingAndGlyphs">4.9%</text><text x="937.45" y="347.7" font-size="11.0" fill="#474747" textLength="24.00" lengthAdjust="spacingAndGlyphs">5.8%</text><text x="1092.90" y="381.6" font-size="11.0" fill="#474747" textLength="23.95" lengthAdjust="spacingAndGlyphs">9.1%</text><text x="986.45" y="416.5" font-size="11.0" fill="#474747" textLength="24.05" lengthAdjust="spacingAndGlyphs">6.8%</text><text x="1013.75" y="451.2" font-size="11.0" fill="#474747" textLength="24.10" lengthAdjust="spacingAndGlyphs">7.4%</text>
<rect x="674.8" y="484.5" width="5.5" height="6" fill="#2E7898"/>
<rect x="770.2" y="484.5" width="5.5" height="6" fill="#33A3A4"/>
<rect x="825.3" y="484.5" width="5.5" height="6" fill="#0580B4"/>
<rect x="903.3" y="484.5" width="5.5" height="6" fill="#BF8F00"/>
<rect x="995.1" y="484.5" width="5.5" height="6" fill="#173A4B"/>
<rect x="1072.9" y="484.5" width="5.5" height="6" fill="#5BCDF8"/>
<text x="682.85" y="491.7" font-size="11.7" fill="#474747" textLength="77.80" lengthAdjust="spacingAndGlyphs">North America</text><text x="777.70" y="491.7" font-size="11.7" fill="#474747" textLength="37.75" lengthAdjust="spacingAndGlyphs">Europe</text><text x="833.25" y="491.7" font-size="11.7" fill="#474747" textLength="60.95" lengthAdjust="spacingAndGlyphs">Asia Pacific</text><text x="910.95" y="491.7" font-size="11.7" fill="#474747" textLength="74.05" lengthAdjust="spacingAndGlyphs">Latin America</text><text x="1002.75" y="491.7" font-size="11.7" fill="#474747" textLength="61.25" lengthAdjust="spacingAndGlyphs">Middle East</text><text x="1082.00" y="491.7" font-size="11.7" fill="#474747" textLength="29.75" lengthAdjust="spacingAndGlyphs">Africa</text>
</svg>
</body>
</html>
